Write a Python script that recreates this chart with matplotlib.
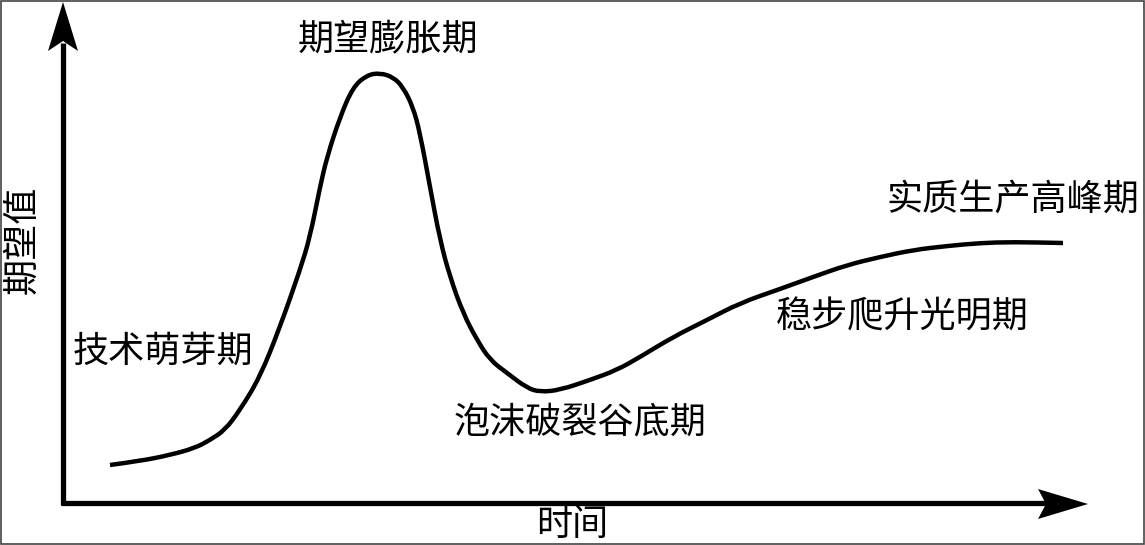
import matplotlib.pyplot as plt
from matplotlib.patches import Polygon, Rectangle, PathPatch
from matplotlib.path import Path

plt.rcParams['font.family'] = ['Noto Sans CJK SC', 'DejaVu Sans']

# hype curve (time, expectation), origin at the axes corner
time = [47, 77, 107, 132, 147, 162, 177, 197, 217, 237, 247, 257, 264, 277,
        290, 304, 317, 330, 340, 350, 357, 367, 377, 387, 400, 414, 427, 444,
        464, 477, 497, 527, 554, 577, 610, 644, 677, 717, 750, 784, 817, 850,
        884, 917, 950, 1000]
expect = [38, 42, 48, 55, 63, 73, 93, 126, 176, 233, 266, 316, 346, 386,
          416, 428, 430, 426, 416, 396, 370, 316, 263, 226, 190, 163, 143, 130,
          115, 111, 113, 123, 133, 146, 166, 183, 200, 214, 226, 238, 246, 253,
          257, 260, 261, 260]

labels = ['技术萌芽期', '期望膨胀期', '泡沫破裂谷底期', '稳步爬升光明期', '实质生产高峰期']
label_pos = [(100, 151), (325, 463), (517, 80), (839, 185), (950, 303)]
x_label = '时间'
y_label = '期望值'

fig = plt.figure(figsize=(11.45, 5.45), dpi=100)
ax = fig.add_axes([0, 0, 1, 1])
ax.set_xlim(-63, 1082)
ax.set_ylim(-42, 503)
ax.axis('off')

# curve: quadratic pieces through the midpoints, so the corners are rounded off
pts = list(zip(time, expect))
verts = [pts[0]]
codes = [Path.MOVETO]
for i in range(1, len(pts) - 1):
    mid = ((pts[i][0] + pts[i + 1][0]) / 2, (pts[i][1] + pts[i + 1][1]) / 2)
    verts += [pts[i], mid]
    codes += [Path.CURVE3, Path.CURVE3]
verts.append(pts[-1])
codes.append(Path.LINETO)
ax.add_patch(PathPatch(Path(verts, codes), facecolor='none', edgecolor='black',
                       lw=3.2, capstyle='butt', joinstyle='round'))

# axes with barbed arrowheads
ax.plot([0, 0], [-2, 460], color='black', lw=3.8, solid_capstyle='butt')
ax.plot([-2, 985], [0, 0], color='black', lw=3.8, solid_capstyle='butt')
ax.add_patch(Polygon([(0, 501), (-15, 452), (0, 462), (15, 452)], closed=True,
                     color='black', lw=0))
ax.add_patch(Polygon([(1025, -1), (975, 14), (983, -1), (975, -16)], closed=True,
                     color='black', lw=0))

for text, (x, y) in zip(labels, label_pos):
    ax.text(x, y, text, fontsize=26, ha='center', va='center')

ax.text(509, -22, x_label, fontsize=26, ha='center', va='center')
ax.text(-41, 263, y_label, fontsize=26, ha='center', va='center', rotation=90)

# thin frame round the picture
fig.patches.append(Rectangle((0.001, 0.001), 0.998, 0.997, transform=fig.transFigure,
                             fill=False, edgecolor='#444444', lw=1.2))

fig.savefig('out.png', dpi=100)
